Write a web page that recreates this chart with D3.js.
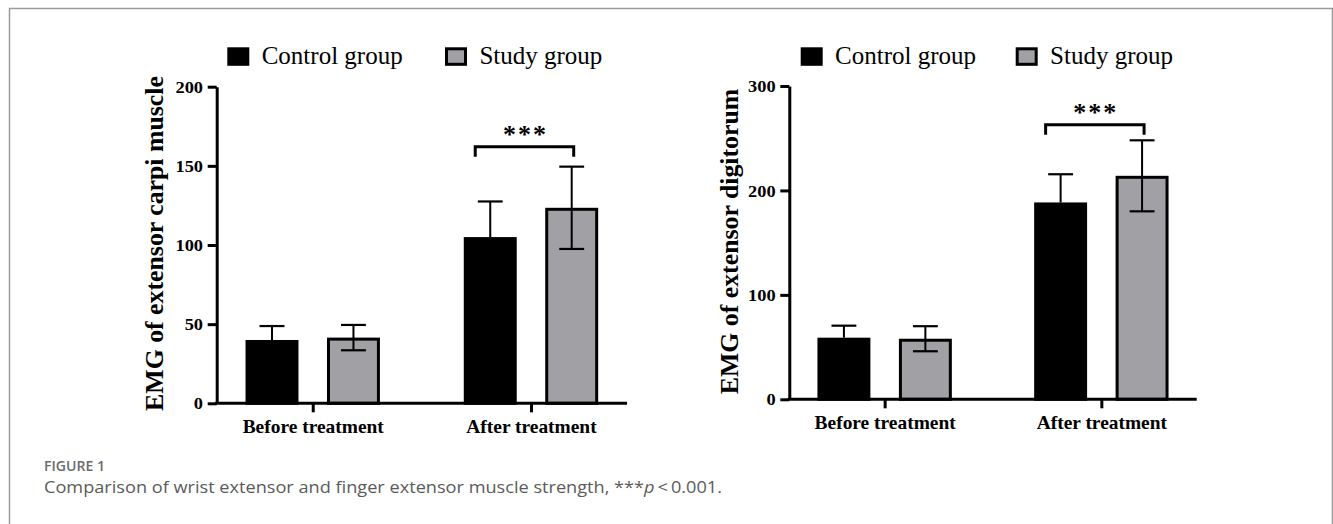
<!DOCTYPE html>
<html>
<head>
<meta charset="utf-8">
<script src="https://cdn.jsdelivr.net/npm/d3@7"></script>
<style>
  html, body { margin: 0; padding: 0; background: #fff; }
  svg { display: block; }
</style>
</head>
<body>
<svg id="chart" width="1333" height="524"></svg>
<script>
// ---- data ----
const categories = ["Before treatment", "After treatment"];
const seriesNames = ["Control group", "Study group"];
const seriesColors = ["#000000", "#a1a1a5"];

// Left panel: EMG of extensor carpi muscle
const carpiControl = [40, 105];
const carpiControlSD = [8.8, 22.5];
const carpiStudy = [41.5, 123.5];
const carpiStudySD = [8, 26];
const carpiTicks = [0, 50, 100, 150, 200];
const carpiBracket = 162;

// Right panel: EMG of extensor digitorum
const digitControl = [59, 188.5];
const digitControlSD = [11.5, 27];
const digitStudy = [58, 214];
const digitStudySD = [12, 34];
const digitTicks = [0, 100, 200, 300];
const digitBracket = 263;

const panels = [
  { label: "EMG of extensor carpi muscle", yMax: 200, ticks: carpiTicks, bracket: carpiBracket,
    values: [carpiControl, carpiStudy], sds: [carpiControlSD, carpiStudySD],
    left: 216.7, right: 627, top: 86.7, bottom: 403.3, labelX: 163, labelY: 243.5, legendX: 227.3, legend2X: 445 },
  { label: "EMG of extensor digitorum", yMax: 300, ticks: digitTicks, bracket: digitBracket,
    values: [digitControl, digitStudy], sds: [digitControlSD, digitStudySD],
    left: 789.3, right: 1196.7, top: 86, bottom: 399.3, labelX: 738, labelY: 241.5, legendX: 800.7, legend2X: 1015.7 }
];

const svg = d3.select("#chart");
const serif = "'Liberation Serif', 'Times New Roman', serif";

// frame
svg.append("path")
  .attr("d", "M9.5,524 V8.5 H1332.5 V524")
  .attr("fill", "none").attr("stroke", "#9a9a9a").attr("stroke-width", 1.5);

panels.forEach(p => {
  const g = svg.append("g");
  const y = d3.scaleLinear().domain([0, p.yMax]).range([p.bottom, p.top]);
  const x = d3.scalePoint().domain(categories).range([p.left, p.right]).padding(0.44);
  const xs = d3.scaleBand().domain(seriesNames).range([-67.2, 67.2]).paddingInner(0.35);
  const bw = xs.bandwidth();

  // bars + error bars
  seriesNames.forEach((s, si) => {
    const vals = p.values[si], sds = p.sds[si];
    categories.forEach((c, ci) => {
      const x0 = x(c) + xs(s);
      const cx = x0 + bw / 2;
      const capW = bw * 0.47;
      const lo = si === 0 ? vals[ci] : vals[ci] - sds[ci];
      const hi = vals[ci] + sds[ci];
      g.append("line").attr("x1", cx).attr("x2", cx)
        .attr("y1", y(lo)).attr("y2", y(hi))
        .attr("stroke", "#000").attr("stroke-width", 2);
      g.append("line").attr("x1", cx - capW / 2).attr("x2", cx + capW / 2)
        .attr("y1", y(hi)).attr("y2", y(hi))
        .attr("stroke", "#000").attr("stroke-width", 2.2);
      if (si === 1) {
        g.append("line").attr("x1", cx - capW / 2).attr("x2", cx + capW / 2)
          .attr("y1", y(lo)).attr("y2", y(lo))
          .attr("stroke", "#000").attr("stroke-width", 2.2);
      }
      g.insert("rect", ":first-child")
        .attr("x", x0 + 1.5).attr("width", bw - 3)
        .attr("y", y(vals[ci]) + 1.5).attr("height", y(0) - y(vals[ci]) - 1.5)
        .attr("fill", seriesColors[si])
        .attr("stroke", "#000").attr("stroke-width", 3);
    });
  });

  // y axis
  const yAxis = g.append("g").attr("transform", `translate(${p.left},0)`)
    .call(d3.axisLeft(y).tickValues(p.ticks).tickSize(9).tickSizeOuter(0).tickPadding(4));
  yAxis.select(".domain").attr("stroke-width", 3);
  yAxis.selectAll(".tick line").attr("stroke-width", 3);
  yAxis.selectAll(".tick text").attr("font-family", serif).attr("font-size", 17.5)
    .attr("font-weight", "bold").attr("fill", "#000")
    .attr("transform", "scale(1.05,1)");

  // x axis
  const xAxis = g.append("g").attr("transform", `translate(0,${p.bottom})`)
    .call(d3.axisBottom(x).tickSize(9).tickSizeOuter(0).tickPadding(8));
  xAxis.select(".domain").attr("stroke-width", 3)
    .attr("d", `M${p.left - 1.5},0H${p.right}`);
  xAxis.selectAll(".tick line").attr("stroke-width", 3);
  xAxis.selectAll(".tick text").attr("font-family", serif).attr("font-size", 18)
    .attr("font-weight", "bold").attr("fill", "#000")
    .attr("transform", "scale(1.08,1)");

  // y label
  g.append("text")
    .attr("transform", `translate(${p.labelX},${p.labelY}) rotate(-90)`)
    .attr("text-anchor", "middle")
    .attr("font-family", serif).attr("font-size", 25.8).attr("font-weight", "bold")
    .text(p.label);

  // significance bracket on "After treatment"
  const c1 = x(categories[1]) + xs(seriesNames[0]) + bw / 2;
  const c2 = x(categories[1]) + xs(seriesNames[1]) + bw / 2;
  const bx1 = c1 - 15, bx2 = c2 + 2;
  const by = y(p.bracket);
  g.append("path")
    .attr("d", `M${bx1},${by + 10}V${by}H${bx2}V${by + 10}`)
    .attr("fill", "none").attr("stroke", "#000").attr("stroke-width", 3);
  g.append("text")
    .attr("x", (bx1 + bx2) / 2 + 1).attr("y", by - 4)
    .attr("text-anchor", "middle")
    .attr("font-family", serif).attr("font-size", 26).attr("font-weight", "bold")
    .attr("letter-spacing", 2)
    .text("***");

  // legend
  const lg = g.append("g");
  [p.legendX, p.legend2X].forEach((lx, i) => {
    lg.append("rect").attr("x", lx + 1.5).attr("y", 48.8).attr("width", 19).attr("height", 15.5)
      .attr("fill", seriesColors[i]).attr("stroke", "#000").attr("stroke-width", 3);
    lg.append("text").attr("x", lx + 34.4).attr("y", 64.3)
      .attr("font-family", serif).attr("font-size", 25)
      .text(seriesNames[i]);
  });
});

// caption
svg.append("text").attr("x", 44).attr("y", 471)
  .attr("font-family", "'Open Sans', sans-serif").attr("font-size", 14).attr("font-weight", 600)
  .attr("fill", "#6b6b6b").attr("textLength", 61).attr("lengthAdjust", "spacingAndGlyphs")
  .text("FIGURE 1");
const cap = svg.append("text").attr("x", 44).attr("y", 493)
  .attr("font-family", "'Open Sans', sans-serif").attr("font-size", 17)
  .attr("fill", "#5a5a5a").attr("textLength", 678).attr("lengthAdjust", "spacingAndGlyphs");
cap.append("tspan").text("Comparison of wrist extensor and finger extensor muscle strength, ***");
cap.append("tspan").attr("font-style", "italic").text("p");
cap.append("tspan").text("\u2009<\u20090.001.");
</script>
</body>
</html>
